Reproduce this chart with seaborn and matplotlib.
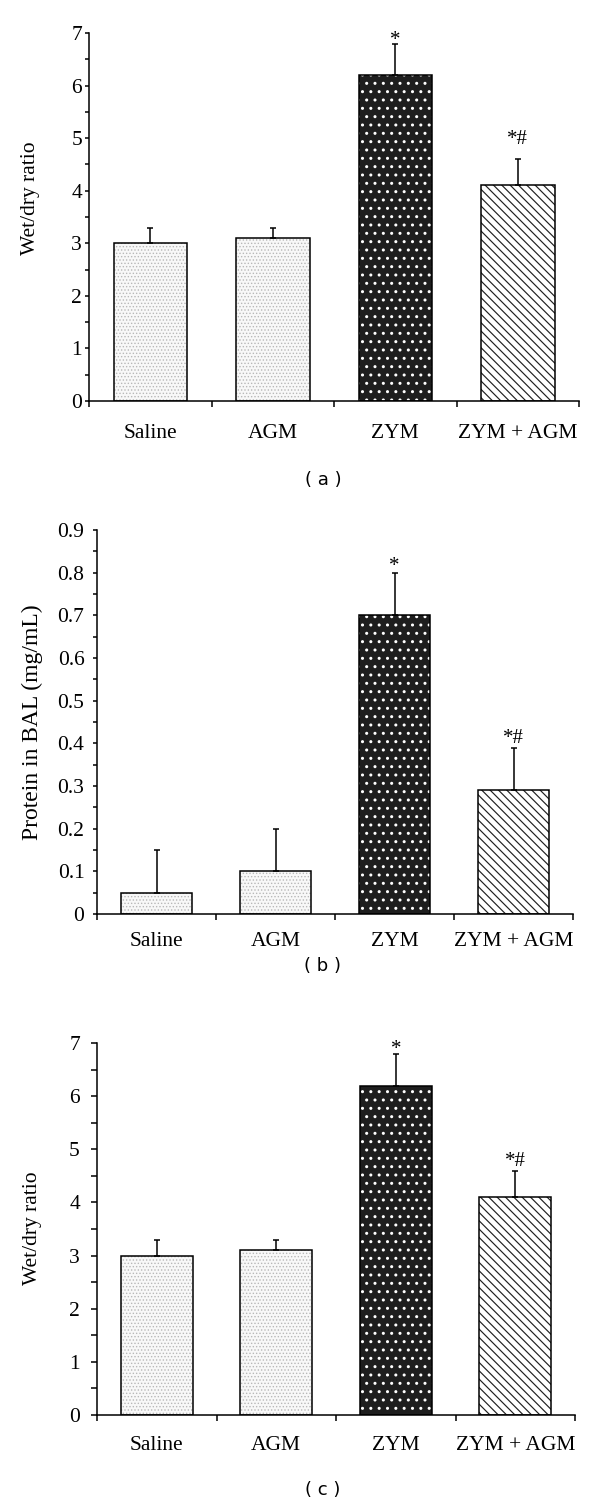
import numpy as np
import matplotlib
matplotlib.use("Agg")
import matplotlib.pyplot as plt
from matplotlib.patches import Rectangle
from matplotlib.ticker import MultipleLocator, FuncFormatter
import seaborn as sns

groups = ["Saline", "AGM", "ZYM", "ZYM + AGM"]
marks = ["", "", "*", "*#"]

wet_dry_a = [3.0, 3.1, 6.2, 4.1]
wet_dry_a_err = [0.3, 0.2, 0.6, 0.5]

protein_bal = [0.05, 0.10, 0.70, 0.29]
protein_bal_err = [0.10, 0.10, 0.10, 0.10]

wet_dry_c = [3.0, 3.1, 6.2, 4.1]
wet_dry_c_err = [0.3, 0.2, 0.6, 0.5]

sns.set_style("ticks", rc={"axes.edgecolor": "black", "xtick.color": "black",
                           "ytick.color": "black", "text.color": "black",
                           "axes.labelcolor": "black"})
plt.rcParams["font.family"] = ["Liberation Serif", "DejaVu Serif"]
plt.rcParams["hatch.linewidth"] = 0.9
plt.rcParams["axes.linewidth"] = 1.1

W, H = 600, 1509
fig = plt.figure(figsize=(W / 100, H / 100), dpi=100)


def axes_px(left, right, top, bottom):
    return fig.add_axes([left / W, 1 - bottom / H, (right - left) / W, (bottom - top) / H])


# face colour, hatch colour, hatch, hatch width for each group
styles = [("#f8f8f8", "#b8b8b8", ".....", 0.6),
          ("#f8f8f8", "#b8b8b8", ".....", 0.6),
          ("#1e1e1e", "white", "..", 1.0),
          ("white", "#202020", "\\\\\\\\", 0.85)]


def draw_panel(ax, values, errs, ymax, step, ylabel, ylsize, label_xy, tlen, tpad,
               xpad, gaps, fmt=None):
    sns.barplot(x=groups, y=values, ax=ax, width=0.6, color="white",
                edgecolor="black", linewidth=1.1, saturation=1, zorder=2)
    for p, (face, hcol, hatch, hlw) in zip(list(ax.patches), styles):
        r = Rectangle(p.get_xy(), p.get_width(), p.get_height(), facecolor=face,
                      edgecolor=hcol, hatch=hatch, linewidth=0, zorder=1.9)
        if hasattr(r, "set_hatch_linewidth"):
            r.set_hatch_linewidth(hlw)
        ax.add_patch(r)
        p.set_facecolor("none")

    x = np.arange(len(groups))
    ax.errorbar(x, values, yerr=[np.zeros(len(values)), errs], fmt="none",
                ecolor="black", elinewidth=1.1, capsize=2.2, capthick=1.1, zorder=3)
    for xi, v, e, m, g in zip(x, values, errs, marks, gaps):
        if m:
            ax.annotate(m, (xi, v + e), xytext=(0, g), textcoords="offset points",
                        ha="center", va="baseline", fontsize=15, annotation_clip=False)

    ax.set_xlim(-0.5, len(groups) - 0.5)
    ax.set_ylim(0, ymax)
    ax.yaxis.set_major_locator(MultipleLocator(step))
    ax.yaxis.set_minor_locator(MultipleLocator(step / 2))
    if fmt is not None:
        ax.yaxis.set_major_formatter(FuncFormatter(fmt))
    ax.tick_params(axis="y", which="both", direction="out", length=tlen, width=1.1,
                   pad=tpad, labelsize=15.5)
    ax.set_xticks(np.arange(len(groups) + 1) - 0.5, minor=True)
    ax.tick_params(axis="x", which="major", length=0, pad=xpad, labelsize=15.5)
    ax.tick_params(axis="x", which="minor", direction="out", length=4, width=1.1)
    sns.despine(ax=ax)
    ax.set_xlabel("")
    ax.set_ylabel(ylabel, fontsize=ylsize)
    ax.yaxis.set_label_coords(*label_xy)


ax_a = axes_px(89, 579, 33, 401)
draw_panel(ax_a, wet_dry_a, wet_dry_a_err, 7, 1, "Wet/dry ratio", 15.5, (-0.10, 0.55),
           3, 2, 16.5, [0, 0, -1, 11])

ax_b = axes_px(97, 573, 530, 914)
draw_panel(ax_b, protein_bal, protein_bal_err, 0.9, 0.1, "Protein in BAL (mg/mL)", 17,
           (-0.113, 0.5), 3, 6, 13, [0, 0, 1, 3.5],
           fmt=lambda v, _: "0" if abs(v) < 1e-9 else f"{v:.1f}")

ax_c = axes_px(97, 575, 1043, 1415)
draw_panel(ax_c, wet_dry_c, wet_dry_c_err, 7, 1, "Wet/dry ratio", 15.5, (-0.115, 0.503),
           4.3, 8, 15, [0, 0, 0, 3.5])

for lab, ypx in [("( a )", 480), ("( b )", 966), ("( c )", 1490)]:
    fig.text(323 / W, 1 - ypx / H, lab, ha="center", va="center", fontsize=13,
             family=["DejaVu Sans"])

fig.savefig("out.png", dpi=100)
